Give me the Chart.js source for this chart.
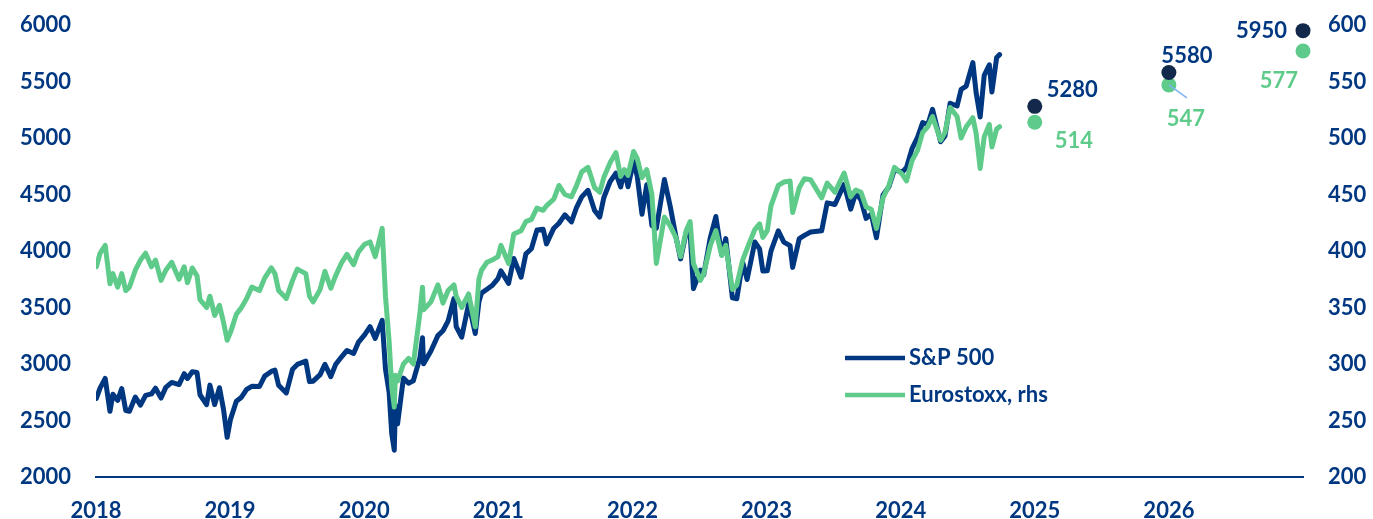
<!DOCTYPE html>
<html>
<head>
<meta charset="utf-8">
<script src="https://cdn.jsdelivr.net/npm/chart.js@4.4.1/dist/chart.umd.min.js"></script>
<style>
  html, body { margin: 0; padding: 0; background: #fff; }
  #wrap { width: 1373px; height: 519px; position: relative; }
</style>
</head>
<body>
<div id="wrap"><canvas id="c" width="1373" height="519"></canvas></div>
<script>
// ── data ─────────────────────────────────────────
const dates = [
  '2018-01-02','2018-01-12','2018-01-26','2018-02-08','2018-02-16','2018-03-01','2018-03-12','2018-03-23',
  '2018-04-02','2018-04-18','2018-05-02','2018-05-16','2018-06-01','2018-06-12','2018-06-27','2018-07-10',
  '2018-07-26','2018-08-15','2018-08-29','2018-09-07','2018-09-20','2018-10-03','2018-10-11','2018-10-29',
  '2018-11-07','2018-11-20','2018-12-03','2018-12-14','2018-12-24',
  '2019-01-02','2019-01-18','2019-02-01','2019-02-15','2019-03-01','2019-03-22','2019-04-05','2019-04-23',
  '2019-05-03','2019-05-13','2019-06-03','2019-06-20','2019-07-03','2019-07-26','2019-08-05','2019-08-15',
  '2019-09-03','2019-09-16','2019-10-02','2019-10-15','2019-11-01','2019-11-15','2019-12-03','2019-12-16',
  '2020-01-02','2020-01-17','2020-01-31','2020-02-19','2020-02-28','2020-03-09','2020-03-16','2020-03-23',
  '2020-03-26','2020-04-01','2020-04-17','2020-05-01','2020-05-14','2020-06-01','2020-06-08','2020-06-11',
  '2020-07-01','2020-07-20','2020-08-03','2020-08-17','2020-09-02','2020-09-08','2020-09-23','2020-10-12',
  '2020-10-30','2020-11-09','2020-11-16','2020-12-01','2020-12-15','2020-12-31',
  '2021-01-08','2021-01-29','2021-02-12','2021-03-04','2021-03-17','2021-04-01','2021-04-16','2021-05-03',
  '2021-05-12','2021-06-01','2021-06-15','2021-07-01','2021-07-19','2021-08-02','2021-08-16','2021-09-02',
  '2021-09-20','2021-10-04','2021-10-15','2021-11-01','2021-11-17','2021-11-30','2021-12-10','2021-12-20',
  '2022-01-04','2022-01-14','2022-01-27','2022-02-09','2022-02-23','2022-03-07','2022-03-29','2022-04-14',
  '2022-04-29','2022-05-12','2022-05-27','2022-06-07','2022-06-16','2022-07-05','2022-07-14','2022-08-01',
  '2022-08-16','2022-09-01','2022-09-12','2022-09-30','2022-10-12','2022-10-28','2022-11-09','2022-11-30',
  '2022-12-13','2022-12-22',
  '2023-01-03','2023-01-13','2023-02-02','2023-02-17','2023-03-06','2023-03-13','2023-03-31','2023-04-14',
  '2023-05-01','2023-05-31','2023-06-15','2023-07-06','2023-07-31','2023-08-18','2023-09-01','2023-09-15',
  '2023-09-29','2023-10-13','2023-10-27','2023-11-14','2023-11-30','2023-12-15',
  '2024-01-05','2024-01-17','2024-02-01','2024-02-16','2024-03-01','2024-03-15','2024-03-28','2024-04-19',
  '2024-05-01','2024-05-15','2024-06-03','2024-06-14','2024-06-28','2024-07-16','2024-07-25','2024-08-05',
  '2024-08-16','2024-08-30','2024-09-06','2024-09-19','2024-09-27'
];

const sp500 = [
  2695,2786,2873,2581,2732,2678,2783,2588, 2582,2708,2636,2722,2735,2786,2699,2793,
  2837,2818,2914,2872,2931,2925,2728,2641, 2813,2641,2790,2600,2351,
  2510,2671,2706,2775,2803,2801,2893,2934, 2946,2812,2744,2954,2996,3025,2844,2848,
  2906,2998,2888,2995,3066,3120,3093,3191,
  3258,3330,3226,3386,2954,2747,2386,2237, 2630,2470,2875,2830,2852,3055,3232,3002,
  3115,3251,3294,3381,3580,3331,3237,3534, 3270,3550,3627,3662,3694,3756,
  3824,3714,3934,3768,3975,4020,4185,4192, 4063,4202,4246,4320,4258,4387,4479,4537,
  4358,4300,4471,4613,4689,4567,4712,4568,
  4793,4662,4326,4587,4225,4201,4632,4392, 4132,3930,4158,4161,3667,3831,3790,4119,
  4305,3966,4110,3586,3577,3901,3748,4080, 4019,3822,
  3825,3999,4179,4079,4048,3855,4109,4138, 4168,4180,4426,4411,4589,4370,4516,4450,
  4288,4327,4117,4496,4568,4719,
  4697,4739,4906,5005,5137,5117,5254,4967, 5018,5308,5283,5431,5460,5667,5399,5186,
  5554,5648,5408,5713,5738
];

const eurostoxx = [
  386,398,405,371,380,368,380,365, 368,383,392,398,386,392,374,383,
  390,375,386,372,385,378,357,350, 360,343,352,337,321,
  328,344,350,358,368,365,376,385, 380,365,358,374,384,380,360,355,
  366,382,367,378,390,397,388,399,
  406,408,395,420,360,320,280,262, 290,285,300,305,300,345,368,348,
  355,370,354,365,370,360,350,362, 333,375,383,390,392,395,
  405,389,415,418,426,428,438,436, 440,446,458,450,448,458,470,474,
  456,452,465,478,487,466,472,467,
  488,482,465,472,450,389,430,422, 412,395,418,426,389,374,380,405,
  418,396,405,366,370,392,402,419, 424,412,
  418,440,458,461,462,434,456,464, 463,447,460,452,469,448,454,452,
  439,437,420,447,458,474,
  468,462,480,489,505,510,519,498, 505,527,519,500,510,518,504,473,
  501,512,492,508,510
];

const fcYears    = [2025, 2026, 2027];
const spForecast = [5280, 5580, 5950];
const esForecast = [514, 547, 577];

const xTicks = [2018, 2019, 2020, 2021, 2022, 2023, 2024, 2025, 2026];

// ── helpers ──────────────────────────────────────
const NAVY = '#003781';
const DOT_NAVY = '#13294b';
const GREEN = '#5fcb8a';
const FONT = 'Lato';

function toYear(s) {
    const [y, m, d] = s.split('-').map(Number);
    const start = Date.UTC(y, 0, 1), end = Date.UTC(y + 1, 0, 1);
    return y + (Date.UTC(y, m - 1, d) - start) / (end - start);
}

const spPts = dates.map((d, i) => ({ x: toYear(d), y: sp500[i] }));
const esPts = dates.map((d, i) => ({ x: toYear(d), y: eurostoxx[i] }));

// ── labels for forecast dots + legend ────────────
const overlay = {
    id: 'overlay',
    afterDatasetsDraw(chart) {
        const { ctx, scales } = chart;
        const x = scales.x, yl = scales.yL, yr = scales.yR;
        ctx.save();
        ctx.font = `bold 22px ${FONT}`;
        ctx.textBaseline = 'middle';

        // leader line for the middle Eurostoxx label
        const mx = x.getPixelForValue(fcYears[1]), my = yr.getPixelForValue(esForecast[1]);
        ctx.strokeStyle = '#7fb3f0';
        ctx.lineWidth = 1.5;
        ctx.beginPath();
        ctx.moveTo(mx, my);
        ctx.lineTo(mx + 18, my + 13);
        ctx.stroke();

        // forecast labels
        const spOff = [[12, -16, 'left'], [18, -17, 'center'], [-16, 0, 'right']];
        const esOff = [[20, 19, 'left'], [17, 34, 'center'], [-5, 30, 'right']];
        fcYears.forEach((yr0, i) => {
            const px = x.getPixelForValue(yr0);
            ctx.fillStyle = NAVY;
            ctx.textAlign = spOff[i][2];
            ctx.fillText(String(spForecast[i]), px + spOff[i][0], yl.getPixelForValue(spForecast[i]) + spOff[i][1]);
            ctx.fillStyle = GREEN;
            ctx.textAlign = esOff[i][2];
            ctx.fillText(String(esForecast[i]), px + esOff[i][0], yr.getPixelForValue(esForecast[i]) + esOff[i][1]);
        });

        // legend
        const items = [['S&P 500', NAVY, 358], ['Eurostoxx, rhs', GREEN, 395]];
        ctx.textAlign = 'left';
        ctx.lineWidth = 4.5;
        items.forEach(([t, c, y]) => {
            ctx.strokeStyle = c;
            ctx.beginPath();
            ctx.moveTo(845, y);
            ctx.lineTo(905, y);
            ctx.stroke();
            ctx.fillStyle = NAVY;
            ctx.fillText(t, 909, y);
        });
        ctx.restore();
    }
};

const tickFont = { family: FONT, size: 22, weight: 'bold' };
const fitY = w => s => { s.width = w; s.paddingTop = 0; s.paddingBottom = 0; };

new Chart(document.getElementById('c'), {
    type: 'line',
    data: {
        datasets: [
            {
                label: 'S&P 500 forecast', type: 'scatter', yAxisID: 'yL', order: 0, clip: false,
                data: fcYears.map((x, i) => ({ x, y: spForecast[i] })),
                pointRadius: 7.5, pointBackgroundColor: DOT_NAVY, pointBorderWidth: 0,
            },
            {
                label: 'Eurostoxx forecast', type: 'scatter', yAxisID: 'yR', order: 0, clip: false,
                data: fcYears.map((x, i) => ({ x, y: esForecast[i] })),
                pointRadius: 7.5, pointBackgroundColor: GREEN, pointBorderWidth: 0,
            },
            {
                label: 'Eurostoxx, rhs', yAxisID: 'yR', order: 1,
                data: esPts, borderColor: GREEN, borderWidth: 5,
                pointRadius: 0, tension: 0, borderJoinStyle: 'round', borderCapStyle: 'round',
            },
            {
                label: 'S&P 500', yAxisID: 'yL', order: 2,
                data: spPts, borderColor: NAVY, borderWidth: 5,
                pointRadius: 0, tension: 0, borderJoinStyle: 'round', borderCapStyle: 'round',
            },
        ]
    },
    options: {
        responsive: false,
        animation: false,
        layout: { autoPadding: false, padding: { top: 25, bottom: 0, left: 0, right: 0 } },
        plugins: { legend: { display: false }, tooltip: { enabled: false } },
        scales: {
            x: {
                type: 'linear', min: 2018, max: 2027,
                grid: { display: false, drawTicks: false },
                border: { display: true, color: NAVY, width: 2 },
                afterBuildTicks: s => { s.ticks = xTicks.map(v => ({ value: v })); },
                afterFit: s => { s.height = 42; s.paddingLeft = 0; s.paddingRight = 0; },
                ticks: { color: NAVY, font: tickFont, padding: 21, maxRotation: 0, autoSkip: false,
                         callback: v => String(v) },
            },
            yL: {
                position: 'left', min: 2000, max: 6000,
                grid: { display: false, drawTicks: false },
                border: { display: false },
                afterFit: fitY(96),
                ticks: { stepSize: 500, color: NAVY, font: tickFont, padding: 25, callback: v => String(v) },
            },
            yR: {
                position: 'right', min: 200, max: 600,
                grid: { display: false, drawTicks: false },
                border: { display: false },
                afterFit: fitY(70),
                ticks: { stepSize: 50, color: NAVY, font: tickFont, padding: 25, callback: v => String(v) },
            },
        }
    },
    plugins: [overlay]
});
</script>
</body>
</html>
